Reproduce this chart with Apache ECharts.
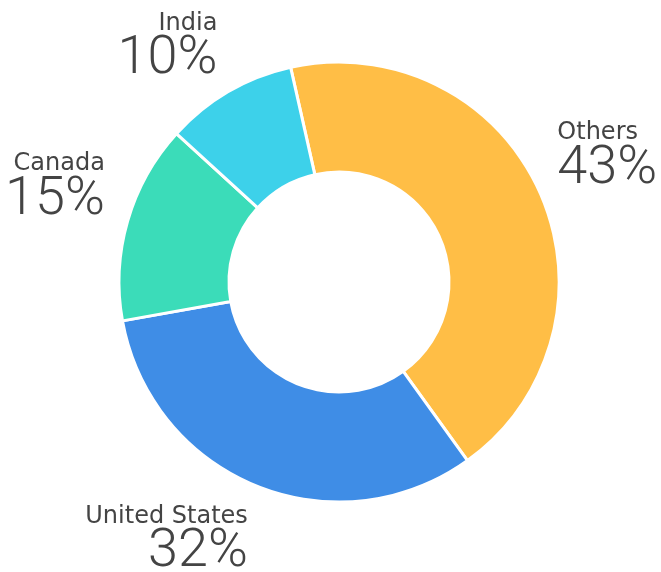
<!DOCTYPE html>
<html>
<head>
<meta charset="utf-8">
<title>Share by country</title>
<script src="https://cdn.jsdelivr.net/npm/echarts@6/dist/echarts.min.js"></script>
<style>
  html, body { margin: 0; padding: 0; background: #fff; }
  #chart { width: 661px; height: 572px; }
</style>
</head>
<body>
<div id="chart"></div>
<script>
const categories = ['Others', 'United States', 'Canada', 'India']
const shares = [43.6, 32.1, 14.6, 9.7]
// percentages as printed on the chart
const shareLabels = ['43%', '32%', '15%', '10%']

// slice colours
const palette = ['#FFBE46', '#3F8DE6', '#3BDCB9', '#3DD1EA']

// label line lengths (hidden lines, only used to place the labels)
const labelLen = [94, 55, 133, 56]
const labelLen2 = [-68, -12, -105, -17]

const chart = echarts.init(document.getElementById('chart'), null, { renderer: 'canvas' })

const seriesData = categories.map((name, i) => ({
  name: name,
  value: shares[i],
  itemStyle: { color: palette[i] },
  labelLine: { show: false, length: labelLen[i], length2: labelLen2[i] },
}))

chart.setOption({
  animation: false,
  series: [
    {
      type: 'pie',
      center: [339, 282],
      radius: [110, 220],
      startAngle: 102.7,
      clockwise: true,
      // labels are placed through the line lengths, no shifting
      avoidLabelOverlap: false,
      itemStyle: {
        borderColor: '#fff',
        borderWidth: 3,
      },
      label: {
        show: true,
        position: 'outside',
        distanceToLabelLine: 0,
        bleedMargin: 0,
        color: '#444',
        formatter: (p) => '{name|' + p.name + '}\n{num|' + shareLabels[p.dataIndex] + '}',
        rich: {
          name: {
            fontFamily: 'DejaVu Sans',
            fontSize: 24,
            lineHeight: 32,
            color: '#444',
          },
          num: {
            fontFamily: 'Roboto',
            fontWeight: 300,
            fontSize: 54,
            lineHeight: 40,
            color: '#444',
          },
        },
      },
      emphasis: { scale: false },
      data: seriesData,
    },
  ],
})
</script>
</body>
</html>
